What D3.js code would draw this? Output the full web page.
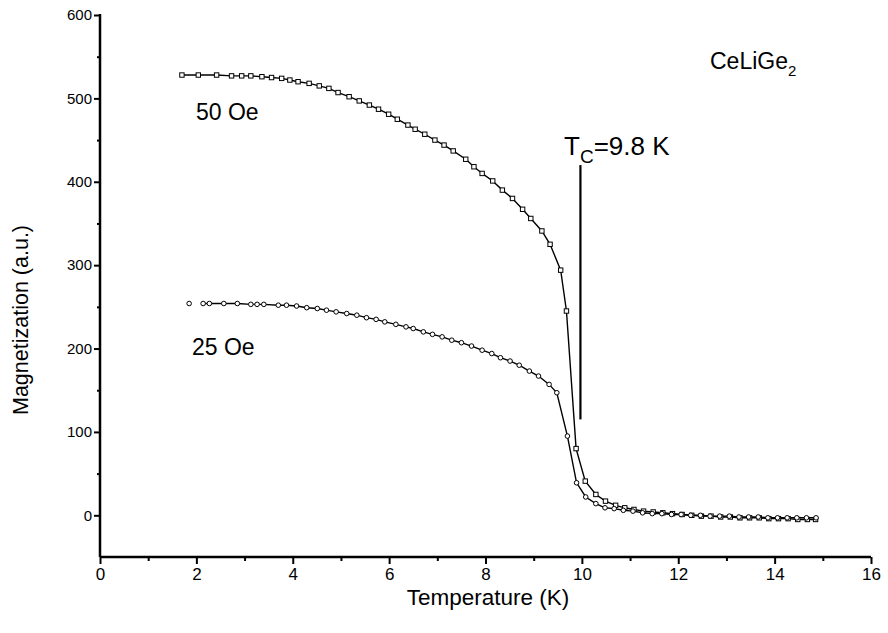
<!DOCTYPE html>
<html>
<head>
<meta charset="utf-8">
<script src="https://cdn.jsdelivr.net/npm/d3@7"></script>
<style>
  body { margin: 0; background: #fff; }
  svg { font-family: "Liberation Sans", Arial, sans-serif; }
</style>
</head>
<body>
<div id="chart"></div>
<script>
// temperature (K) and magnetization (a.u.)
const t50 = [1.70,2.04,2.42,2.73,2.94,3.13,3.36,3.56,3.77,3.94,4.11,4.34,4.55,4.75,4.94,5.17,5.38,5.59,5.78,5.99,
             6.17,6.39,6.54,6.74,6.95,7.14,7.33,7.59,7.76,7.93,8.15,8.35,8.56,8.77,8.94,9.17,9.34,9.56,9.68,9.88,
             10.07,10.29,10.49,10.70,10.89,11.08,11.28,11.48,11.68,11.88,12.08,12.28,12.48,12.68,12.88,13.08,13.28,13.48,13.68,13.88,
             14.08,14.28,14.48,14.68,14.85];
const m50 = [528,528,528,527,527,527,526,525,524,522,520,518,515,512,507,502,497,492,487,481,
             475,468,463,457,450,444,437,427,418,410,401,390,380,367,356,341,325,294,245,80,
             41,25,17,12,9,7,5,4,3,2,1,0,-1,-1,-2,-2,-3,-3,-3,-4,
             -4,-4,-5,-5,-5];
const t25 = [1.85,2.14,2.27,2.57,2.85,3.13,3.26,3.40,3.70,3.87,4.08,4.29,4.51,4.70,4.90,5.12,5.33,5.53,5.73,5.91,
             6.14,6.35,6.50,6.71,6.90,7.10,7.30,7.50,7.71,7.93,8.13,8.31,8.51,8.70,8.91,9.10,9.32,9.48,9.70,9.89,
             10.08,10.29,10.48,10.67,10.86,11.06,11.26,11.46,11.66,11.86,12.06,12.26,12.46,12.66,12.86,13.06,13.26,13.46,13.66,13.86,
             14.06,14.26,14.46,14.66,14.86];
const m25 = [254,254,254,254,254,253,253,253,252,252,251,249,248,246,244,242,240,237,235,232,
             229,226,224,220,217,214,210,207,203,198,194,189,185,180,173,167,157,147,95,39,
             22,14,9,8,6,5,3,2,2,1,1,0,0,-1,-1,-1,-2,-2,-2,-3,
             -3,-3,-3,-3,-3];

const xTicks = [0,2,4,6,8,10,12,14,16];
const xMinor = [1,3,5,7,9,11,13,15];
const yTicks = [0,100,200,300,400,500,600];
const yMinor = [50,150,250,350,450,550];

// Tc marker line (temperature, from, to)
const tcLine = [9.97, 115, 420];

const w = 888, h = 633;
const svg = d3.select("#chart").append("svg")
    .attr("width", w).attr("height", h);

const x = d3.scaleLinear().domain([0,16]).range([100,871]);
const y = d3.scaleLinear().domain([-50,600]).range([557,15]);

// axes
const gx = svg.append("g").attr("transform","translate(0,557)")
    .call(d3.axisBottom(x).tickValues(xTicks).tickSize(7).tickPadding(4).tickFormat(d3.format("d")));
svg.append("g").attr("transform","translate(0,557)")
    .call(d3.axisBottom(x).tickValues(xMinor).tickSize(4).tickFormat(""))
    .select(".domain").remove();
const gy = svg.append("g").attr("transform","translate(100,0)")
    .call(d3.axisLeft(y).tickValues(yTicks).tickSize(6).tickPadding(2).tickFormat(d3.format("d")));
svg.append("g").attr("transform","translate(100,0)")
    .call(d3.axisLeft(y).tickValues(yMinor).tickSize(3).tickFormat(""))
    .select(".domain").remove();

svg.selectAll(".domain").attr("stroke-width",2.5);
gx.select(".domain").attr("d","M100,0H871");
gy.select(".domain").attr("d","M0,14V557");
svg.selectAll(".tick line").attr("stroke-width",2);
gx.selectAll("text").attr("font-size",17).attr("fill","#000");
gy.selectAll("text").attr("font-size",15).attr("fill","#000");

// axis titles
svg.append("text").attr("x",488).attr("y",605).attr("text-anchor","middle")
    .attr("font-size",22.5).text("Temperature (K)");
svg.append("text").attr("transform","translate(28,320) rotate(-90)").attr("text-anchor","middle")
    .attr("font-size",21.5).text("Magnetization (a.u.)");

// curves
const line = d3.line().x(d => x(d[0])).y(d => y(d[1]));
const d50 = t50.map((t,i) => [t, m50[i]]);
const d25 = t25.map((t,i) => [t, m25[i]]);

svg.append("path").datum(d50).attr("d",line)
    .attr("fill","none").attr("stroke","#000").attr("stroke-width",1.4);
svg.append("path").datum(d25.slice(1)).attr("d",line)
    .attr("fill","none").attr("stroke","#000").attr("stroke-width",1.4);

svg.selectAll(".sq").data(d50).enter().append("rect")
    .attr("class","sq")
    .attr("x", d => x(d[0]) - 2.2).attr("y", d => y(d[1]) - 2.2)
    .attr("width",4.4).attr("height",4.4)
    .attr("fill","#fff").attr("stroke","#000").attr("stroke-width",1);
svg.selectAll(".ci").data(d25).enter().append("circle")
    .attr("class","ci")
    .attr("cx", d => x(d[0])).attr("cy", d => y(d[1])).attr("r",2.3)
    .attr("fill","#fff").attr("stroke","#000").attr("stroke-width",1);

// Tc line
svg.append("line")
    .attr("x1", x(tcLine[0])).attr("x2", x(tcLine[0]))
    .attr("y1", y(tcLine[1])).attr("y2", y(tcLine[2]))
    .attr("stroke","#000").attr("stroke-width",2.2);

// labels
const tc = svg.append("text").attr("x",564).attr("y",155).attr("font-size",26);
tc.append("tspan").text("T");
tc.append("tspan").attr("font-size",19).attr("dy",8).text("C");
tc.append("tspan").attr("dy",-8).text("=9.8 K");

svg.append("text").attr("x",196).attr("y",120).attr("font-size",23).text("50 Oe");
svg.append("text").attr("x",192).attr("y",355).attr("font-size",23).text("25 Oe");

const ce = svg.append("text").attr("x",710).attr("y",69).attr("font-size",23);
ce.append("tspan").text("CeLiGe");
ce.append("tspan").attr("font-size",15).attr("dy",7).text("2");
</script>
</body>
</html>
